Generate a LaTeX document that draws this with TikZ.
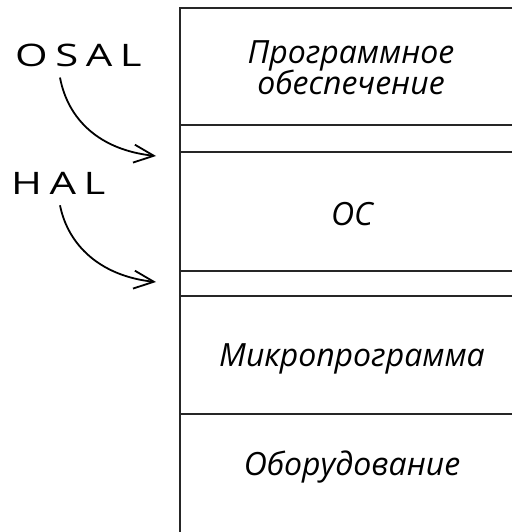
\documentclass[tikz,border=0pt]{standalone}
\usepackage{fontspec}
\setmainfont{Open Sans}
\newfontfamily\labelfont[LetterSpace=18]{Open Sans}
\usetikzlibrary{arrows.meta}
\tikzset{
  layerline/.style={line width=2.6pt, draw=black!85},
  layertext/.style={font=\itshape\fontsize{32}{34}\selectfont, align=center, inner sep=0pt},
  sidelabel/.style={font=\labelfont\fontsize{31}{33}\selectfont, inner sep=0pt, anchor=west},
  hookarrow/.style={line width=1.8pt, -{Straight Barb[length=20pt,width=18pt,line width=1.8pt]}}
}
\begin{document}
\begin{tikzpicture}[x=1pt,y=-1pt]
\useasboundingbox (0,0) rectangle (512,532);
% stack outline
\draw[layerline] (512,8) -- (180,8) -- (180,533);
\draw[layerline] (180,125) -- (512,125);
\draw[layerline] (180,152) -- (512,152);
\draw[layerline] (180,271) -- (512,271);
\draw[layerline] (180,296) -- (512,296);
\draw[layerline] (180,414) -- (512,414);
% layer texts
\node[layertext] (sw) at (351,68) {Программное\\[-3pt]обеспечение};
\node[layertext] (os) at (352,214) {ОС};
\node[layertext] (fw) at (352,359) {Микропрограмма};
\node[layertext] (hw) at (352,467) {Оборудование};
% side labels
\node[sidelabel] (osal) at (15,55) {\scalebox{1.35}[1]{OSAL}};
\node[sidelabel] (hal) at (11,183) {\scalebox{1.35}[1]{HAL}};
\coordinate (osaltip) at (156,156);
\coordinate (haltip) at (156,282);
\draw[hookarrow] (osal.south west) ++(45pt,-11pt) .. controls (68,120) and (100,150) .. (osaltip);
\draw[hookarrow] (hal.south west) ++(49pt,-11pt) .. controls (68,245) and (100,276) .. (haltip);
\end{tikzpicture}
\end{document}
